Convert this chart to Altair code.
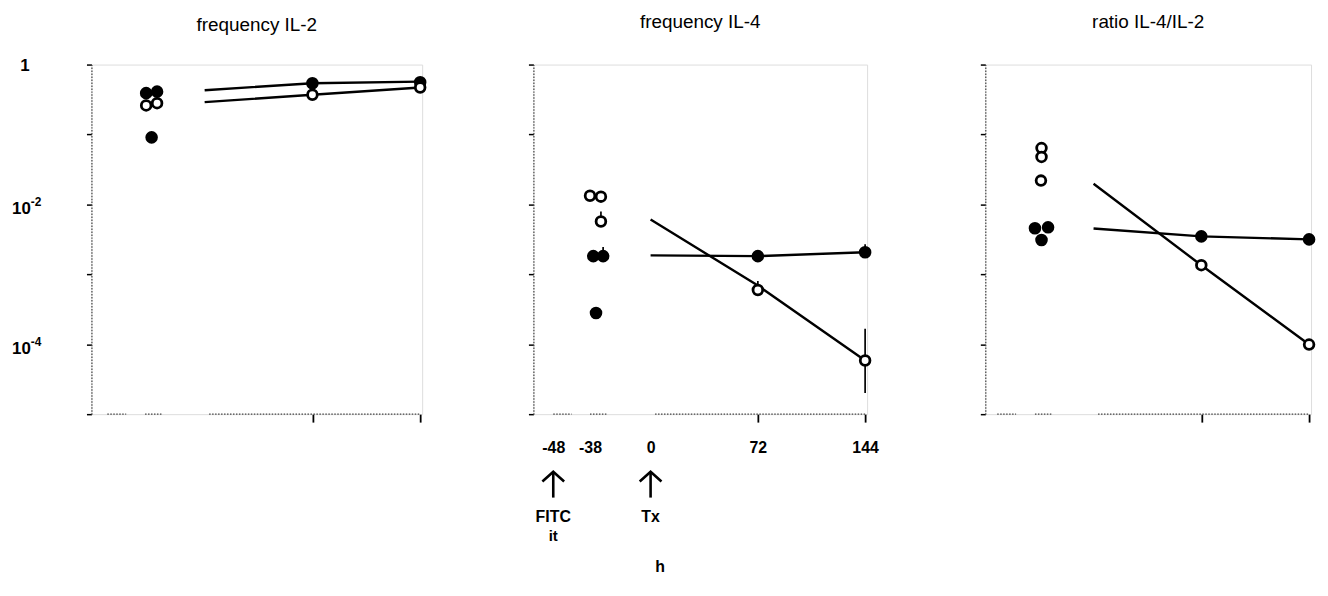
import altair as alt
import pandas as pd

# ---------------- data ----------------
titles = ["frequency IL-2", "frequency IL-4", "ratio IL-4/IL-2"]
pre_hour = -38
line_hours = [0, 72, 144]
time_hours = [72, 144]

# replicate values at -38 h
pre_filled = [[0.39, 0.41, 0.091], [0.00182, 0.00182, 0.00028], [0.00456, 0.0047, 0.0031]]
pre_open = [[0.26, 0.28], [0.0133, 0.0129, 0.0057], [0.064, 0.0477, 0.0219]]
# side-by-side arrangement of overlapping replicates (0 = left column, 1 = right column)
pre_filled_col = [[0.1, 1.1, 0.6], [0.3, 1.2, 0.55], [0.0, 1.2, 0.6]]
pre_open_col = [[0.1, 1.1], [0.0, 1.0, 1.0], [0.6, 0.6, 0.55]]

# values at 72 h and 144 h
filled_t = [[0.54, 0.56], [0.00182, 0.00207], [0.00349, 0.00316]]
open_t = [[0.37, 0.47], [0.000597, 5.85e-5], [0.00135, 9.9e-5]]

# fitted lines at 0, 72, 144 h
filled_line = [[0.43, 0.54, 0.57], [0.00187, 0.00182, 0.00207], [0.00453, 0.00349, 0.00316]]
open_line = [[0.29, 0.37, 0.47], [0.0061, 0.00069, 5.85e-5], [0.0197, 0.00135, 9.9e-5]]

# error bars: (panel, hour, column, low, high)
errors = [
    (1, -38, 1.0, 0.0057, 0.0079),
    (1, -38, 1.2, 0.00182, 0.00245),
    (1, 72, 0.0, 0.000597, 0.0008),
    (1, 144, 0.0, 2.0e-5, 1.66e-4),
    (1, 144, 0.0, 0.00207, 0.00269),
]

x_tick_labels = [-48, -38, 0, 72, 144]
y_tick_values = [1, 0.1, 0.01, 0.001, 1e-4, 1e-5]
# y labels: (value, base, exponent)
y_labels = [(1, "1", ""), (0.01, "10", "-2"), (0.0001, "10", "-4")]
events = [(-48, "FITC", "it"), (0, "Tx", "")]

# ---------------- layout / style ----------------
FONT = "Liberation Sans"
X_BREAKS = [-48, -38, 0, 144]             # broken time axis
RANGES = [[16, 54, 114, 331], [20, 57, 118, 334], [12, 50, 109, 326]]
WIDTHS = [333, 336, 328]
TITLE_OFFSETS = [22, 32, 32]
COL_PX = 11
PLOT_H = 352
AXIS_SEGMENTS = [(-48, -43), (-38, -27), (3, 144)]


def build(i):
    rng = RANGES[i]
    px_per_h = (rng[2] - rng[1]) / 38.0
    xs = alt.Scale(domain=X_BREAKS, range=rng, nice=False, zero=False)
    ys = alt.Scale(type="log", domain=[1e-5, 1], nice=False)

    yaxis = alt.Axis(values=y_tick_values, title=None, grid=False, labels=False,
                     tickSize=5, tickWidth=1.5, tickColor="black",
                     domainDash=[1.5, 1.5], domainColor="#444", domainWidth=1.2)

    if i == 1:
        xaxis = alt.Axis(values=x_tick_labels, title="h", grid=False, domain=False,
                         labelExpr="'' + datum.value",
                         labelFontSize=16, labelFontWeight="bold", labelFont=FONT, labelColor="black",
                         labelPadding=18, labelFlush=False, labelOverlap=False,
                         tickSize=8, tickWidth=1.8, tickColor="black",
                         tickOpacity={"condition": {"test": "datum.value > 10", "value": 1}, "value": 0},
                         titleFont=FONT, titleFontSize=16, titleFontWeight="bold",
                         titleX=127, titleY=158, titleBaseline="alphabetic", titleAlign="center")
    else:
        xaxis = alt.Axis(values=time_hours, title=None, grid=False, domain=False, labels=False,
                         tickSize=8, tickWidth=1.8, tickColor="black")

    X = alt.X("hour:Q", scale=xs, axis=xaxis)
    Y = alt.Y("value:Q", scale=ys, axis=yaxis)

    # points
    rows = []
    for v, c in zip(pre_filled[i], pre_filled_col[i]):
        rows.append(dict(hour=pre_hour + c * COL_PX / px_per_h, value=v, group="filled"))
    for v, c in zip(pre_open[i], pre_open_col[i]):
        rows.append(dict(hour=pre_hour + c * COL_PX / px_per_h, value=v, group="open"))
    for h, v in zip(time_hours, filled_t[i]):
        rows.append(dict(hour=h, value=v, group="filled"))
    for h, v in zip(time_hours, open_t[i]):
        rows.append(dict(hour=h, value=v, group="open"))
    pts = pd.DataFrame(rows)

    lines = pd.DataFrame(
        [dict(hour=h, value=v, group="filled") for h, v in zip(line_hours, filled_line[i])]
        + [dict(hour=h, value=v, group="open") for h, v in zip(line_hours, open_line[i])]
    )

    segs = pd.DataFrame([dict(hour=a, hour2=b, value=1e-5) for a, b in AXIS_SEGMENTS])

    err_rows = []
    for p, h, c, lo, hi in errors:
        if p == i:
            hh = h + c * COL_PX / px_per_h if h < 0 else h
            err_rows.append(dict(hour=hh, value=lo, value2=hi))

    layers = []
    layers.append(
        alt.Chart(segs).mark_rule(color="#444", strokeWidth=1.2, strokeDash=[1.5, 1.5]).encode(
            x=X, x2="hour2:Q", y=Y)
    )
    if err_rows:
        layers.append(
            alt.Chart(pd.DataFrame(err_rows)).mark_rule(color="black", strokeWidth=1.7).encode(
                x=X, y=Y, y2="value2:Q")
        )
    layers.append(
        alt.Chart(lines).mark_line(color="black", strokeWidth=2.4).encode(
            x=X, y=Y, detail="group:N")
    )
    layers.append(
        alt.Chart(pts).transform_filter("datum.group == 'filled'").mark_circle(
            color="black", size=160, opacity=1).encode(x=X, y=Y)
    )
    layers.append(
        alt.Chart(pts).transform_filter("datum.group == 'open'").mark_point(
            shape="circle", filled=False, fill="white", stroke="black", strokeWidth=2.8,
            size=95, opacity=1, fillOpacity=1).encode(x=X, y=Y)
    )

    if i == 0:
        yl = pd.DataFrame([dict(value=v, base=b, exp=e) for v, b, e in y_labels])
        layers.append(
            alt.Chart(yl).mark_text(font=FONT, fontSize=17, fontWeight="bold", color="black",
                                    align="right", baseline="middle", dy=5).encode(
                x=alt.value(-61), y=Y, text="base:N")
            .transform_filter("datum.exp != ''")
        )
        layers.append(
            alt.Chart(yl).mark_text(font=FONT, fontSize=17, fontWeight="bold", color="black",
                                    align="center", baseline="middle", dy=1).encode(
                x=alt.value(-67), y=Y, text="base:N")
            .transform_filter("datum.exp == ''")
        )
        layers.append(
            alt.Chart(yl).mark_text(font=FONT, fontSize=12, fontWeight="bold", color="black",
                                    align="left", baseline="middle", dy=-2).encode(
                x=alt.value(-61), y=Y, text="exp:N")
            .transform_filter("datum.exp != ''")
        )

    if i == 1:
        ev = pd.DataFrame([dict(hour=h, line1=a, line2=b) for h, a, b in events])
        layers.append(
            alt.Chart(ev).mark_rule(color="black", strokeWidth=2.6).encode(
                x=X, y=alt.value(411), y2=alt.value(436))
        )
        layers.append(
            alt.Chart(ev).mark_point(shape="M-1,0.9L0,0L1,0.9", filled=False, stroke="black",
                                     strokeWidth=2.6, size=480, opacity=1,
                                     strokeJoin="miter", strokeCap="butt").encode(
                x=X, y=alt.value(410))
        )
        layers.append(
            alt.Chart(ev).mark_text(font=FONT, fontSize=16, fontWeight="bold", color="black",
                                    baseline="middle").encode(
                x=X, y=alt.value(456), text="line1:N")
        )
        layers.append(
            alt.Chart(ev).mark_text(font=FONT, fontSize=15, fontWeight="bold", color="black",
                                    baseline="middle").encode(
                x=X, y=alt.value(475), text="line2:N")
        )

    return alt.layer(*layers).properties(
        width=WIDTHS[i], height=PLOT_H,
        title=alt.TitleParams(titles[i], font=FONT, fontSize=19, fontWeight="normal",
                              color="black", anchor="middle", frame="group",
                              offset=TITLE_OFFSETS[i]),
    )


p1, p2, p3 = build(0), build(1), build(2)
chart = alt.hconcat(alt.hconcat(p1, p2, spacing=96), p3, spacing=100).properties(
    padding={"left": 3, "top": 2, "right": 0, "bottom": 0}
).configure_view(stroke=None).configure(font=FONT)

chart.save("out.html", embed_options={"renderer": "svg", "actions": False})
